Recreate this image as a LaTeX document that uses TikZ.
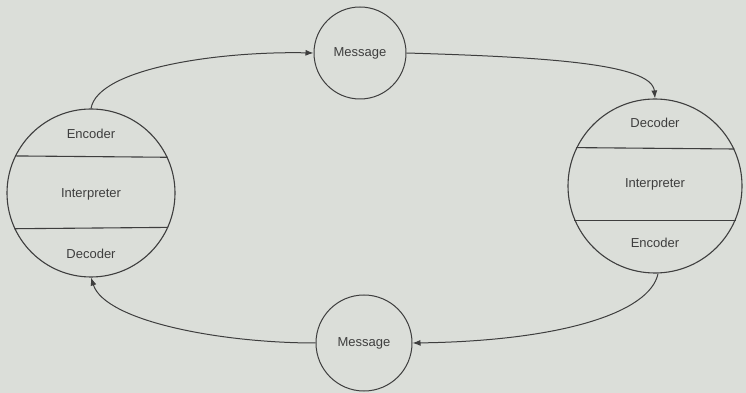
\documentclass[tikz,border=0pt]{standalone}
\usepackage{fontspec}
\setmainfont{Liberation Sans}
\usetikzlibrary{arrows.meta}
\definecolor{paper}{RGB}{219,222,217}
\definecolor{ink}{RGB}{62,62,62}
\begin{document}
\begin{tikzpicture}
  [x=1pt,y=1pt,->,>={Latex[length=8pt,width=6pt]},
   every node/.style={text=ink},
   agent/.style={circle,draw=ink,line width=1.1pt,inner sep=0pt},
   msg/.style={circle,draw=ink,line width=1pt,inner sep=0pt,font=\fontsize{13}{15}\selectfont},
   part/.style={font=\fontsize{13}{15}\selectfont}]
  \fill[paper] (0,0) rectangle (746,393);
  \useasboundingbox (0,0) rectangle (746,393);

  \node[agent,minimum size=168pt] (L) at (91,200) {};
  \node[agent,minimum size=174pt] (R) at (655,207) {};
  \node[msg,minimum size=92pt] (M1) at (360,340) {Message};
  \node[msg,minimum size=96pt] (M2) at (364,50) {Message};

  \node[part] (encL) at (91,259) {Encoder};
  \node[part] (intL) at (91,199) {Interpreter};
  \node[part] (decL) at (91,139) {Decoder};
  \node[part] (decR) at (655,270) {Decoder};
  \node[part] (intR) at (655,209) {Interpreter};
  \node[part] (encR) at (655,150) {Encoder};

  % sections of the two circles
  \draw[-,ink,line width=1.1pt] (L.154.6) -- (L.25.4);
  \draw[-,ink,line width=1.1pt] (L.-155.4) -- (L.-24.6);
  \draw[-,ink,line width=1.1pt] (R.154.1) -- (R.25.9);
  \draw[-,ink,line width=1.1pt] (R.-157) -- (R.-23);

    \draw[ink,line width=1pt] (L.north) .. controls (98,325) and (220,342) .. (M1.west);
    \draw[ink,line width=1pt] (M1.east) .. controls (540,336) and (652,330) .. (R.north);
    \draw[ink,line width=1pt] (R.-88) .. controls (650,80) and (560,52) .. (M2.east);
    \draw[ink,line width=1pt] (M2.west) .. controls (220,50) and (105,72) .. (L.south);

\end{tikzpicture}
\end{document}
